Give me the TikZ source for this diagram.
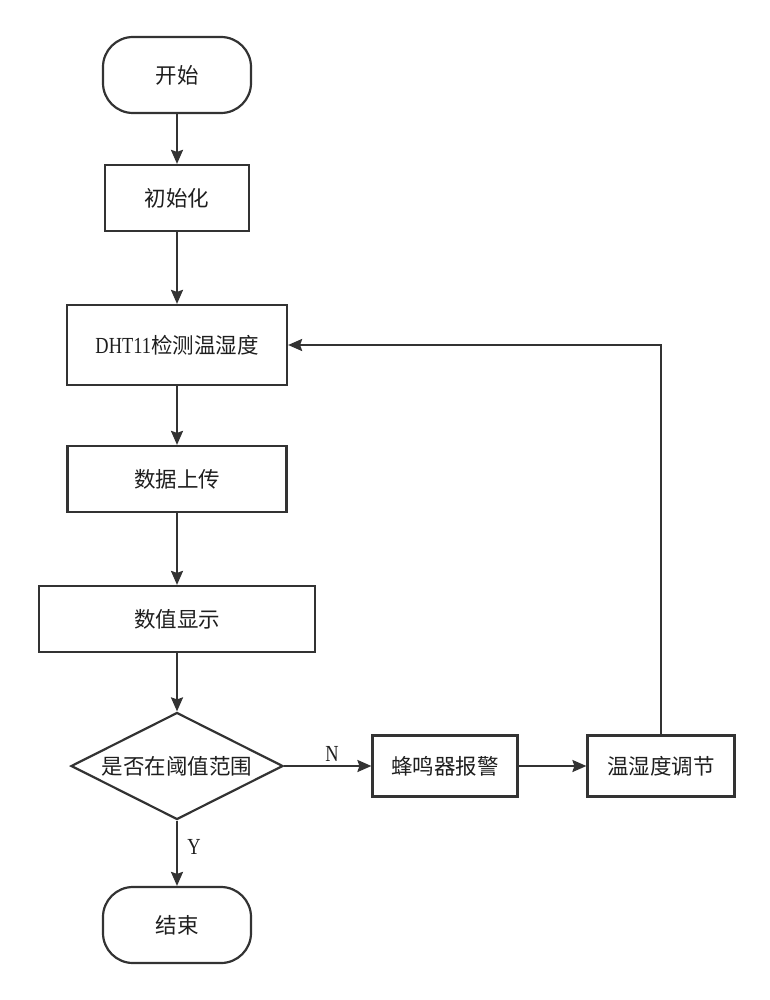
\documentclass[tikz,border=0pt]{standalone}
\usepackage{fontspec}
\setmainfont{Noto Sans CJK SC}
\newfontfamily\latinfont{Liberation Serif}[FakeStretch=0.8]
\usetikzlibrary{arrows.meta, shapes.geometric}
\definecolor{LineGray}{HTML}{333333}
\definecolor{TextDark}{HTML}{1E1E1E}

\tikzset{
  term/.style={draw=LineGray, text=TextDark, rounded corners=30pt, minimum width=148pt, minimum height=76pt},
  proc/.style={draw=LineGray, text=TextDark, minimum height=66pt},
  dec/.style={draw=LineGray, text=TextDark, diamond, aspect=2, inner sep=0pt, minimum width=212pt, minimum height=107pt},
  arr/.style={-{Stealth[length=14pt, width=12pt, inset=2pt]}, draw=LineGray},
  lbl/.style={text=TextDark, font=\fontsize{23}{26}\selectfont\latinfont},
}

\begin{document}
\begin{tikzpicture}[x=1pt, y=-1pt, line width=2.2pt, font=\fontsize{21.5}{25}\selectfont]
        \useasboundingbox (0,0) rectangle (770,1000);
        % main column
        \node[term] (start) at (177,75) {开始};
        \node[proc, minimum width=144pt] (init) at (177,198) {初始化};
        \node[proc, minimum width=220pt, minimum height=80pt] (detect) at (177,345) {{\latinfont\fontsize{23}{26}\selectfont DHT11}检测温湿度};
        \node[proc, minimum width=219pt] (upload) at (177,479) {数据上传};
        \node[proc, minimum width=276pt] (show) at (177,619) {数值显示};
        \node[dec] (check) at (177,766) {是否在阈值范围};
        \node[term] (stop) at (177,925) {结束};
        % right branch
        \node[proc, minimum width=145pt, minimum height=61pt] (alarm) at (445,766) {蜂鸣器报警};
        \node[proc, minimum width=147pt, minimum height=61pt] (adjust) at (661,766) {温湿度调节};

        \draw[arr] (start) -- (init);
        \draw[arr] (init) -- (detect);
        \draw[arr] (detect) -- (upload);
        \draw[arr] (upload) -- (show);
        \draw[arr] (show) -- (check);
        \draw[arr] (check) -- node[lbl, above, pos=0.55] {N} (alarm);
        \draw[arr] (check) -- node[lbl, right, pos=0.4, xshift=6pt] {Y} (stop);
        \draw[arr] (alarm) -- (adjust);
        \draw[arr] (adjust.north) |- (detect.east);
    \end{tikzpicture}
\end{document}
